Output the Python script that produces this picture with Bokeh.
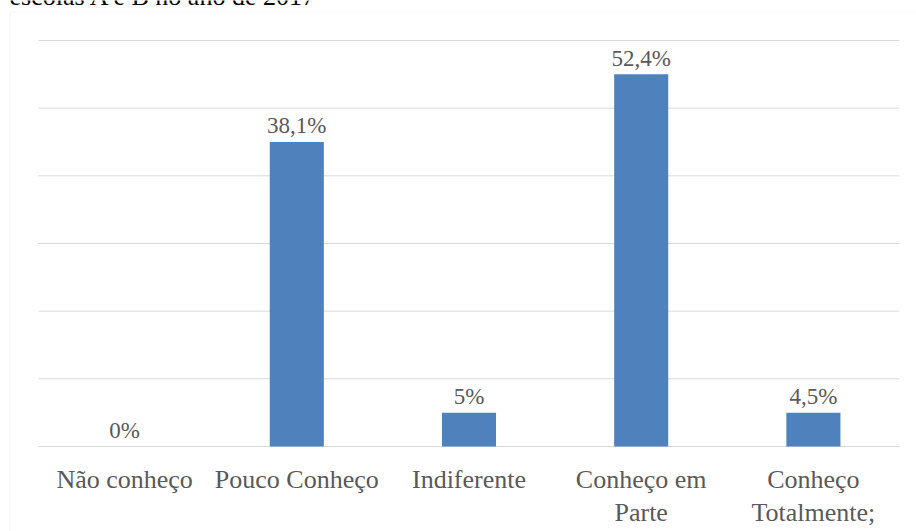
from bokeh.plotting import figure
from bokeh.models import ColumnDataSource, FactorRange, Label, BoxAnnotation, Range1d
from bokeh.transform import dodge
from bokeh.core.properties import value
from bokeh.embed import file_html
from bokeh.resources import INLINE

categories = ["Não conheço", "Pouco Conheço", "Indiferente", "Conheço em\nParte", "Conheço\nTotalmente;"]
bar_heights = [0, 45, 5, 55, 5]
value_labels = ["0%", "38,1%", "5%", "52,4%", "4,5%"]
y_ticks = [0, 10, 20, 30, 40, 50, 60]
title_text = "escolas A e B no ano de 2017"

FONT = "Liberation Serif"
TEXT_COLOR = "#595959"
GRID_COLOR = "#D9D9D9"
BAR_COLOR = "#4F81BD"

W, H = 916, 531
x_range = FactorRange(factors=categories, range_padding=0.1597, range_padding_units="absolute",
                      factor_padding=0)
p = figure(x_range=x_range, y_range=Range1d(-12.56, 65.91), width=W, height=H,
           output_backend="svg", toolbar_location=None,
           min_border=0, min_border_left=0, min_border_right=0,
           min_border_top=0, min_border_bottom=0)
p.xaxis.visible = False
p.yaxis.visible = False
p.xgrid.visible = False
p.ygrid.visible = False
p.outline_line_color = None
p.background_fill_color = "white"
p.border_fill_color = "white"

SHIFT = 0.061  # horizontal placement of the category band inside the frame

# gridlines
gsrc = ColumnDataSource(dict(y=y_ticks, c0=[categories[0]] * len(y_ticks),
                             c1=[categories[-1]] * len(y_ticks)))
p.segment(x0=dodge("c0", -0.5 + SHIFT, range=x_range), y0="y",
          x1=dodge("c1", 0.5 + SHIFT, range=x_range), y1="y",
          source=gsrc, line_color=GRID_COLOR, line_width=1)

source = ColumnDataSource(dict(cat=categories, h=bar_heights, lab=value_labels,
                               base=[0] * len(categories)))
xc = dodge("cat", SHIFT, range=x_range)
p.vbar(x=xc, top="h", width=0.314, source=source, fill_color=BAR_COLOR, line_color=None)
p.text(x=xc, y="h", text="lab", source=source, text_align="center", text_baseline="alphabetic",
       y_offset=-16, text_font=value(FONT), text_font_size="23px", text_color=TEXT_COLOR)
p.text(x=xc, y="base", text="cat", source=source, text_align="center", text_baseline="top",
       y_offset=18, text_font=value(FONT), text_font_size="26px", text_color=TEXT_COLOR,
       text_line_height=1.15)

p.add_layout(BoxAnnotation(left=9.5, right=3000, top=11.5, bottom=3000,
                           left_units="canvas", right_units="canvas",
                           top_units="canvas", bottom_units="canvas",
                           fill_color=None, fill_alpha=0, line_color=GRID_COLOR, line_width=1))
p.add_layout(Label(x=9, y=-4, x_units="canvas", y_units="canvas", text=title_text,
                   text_font=FONT, text_font_size="26px", text_color="black",
                   text_baseline="alphabetic"))

open("out.html", "w").write(file_html(p, INLINE))
